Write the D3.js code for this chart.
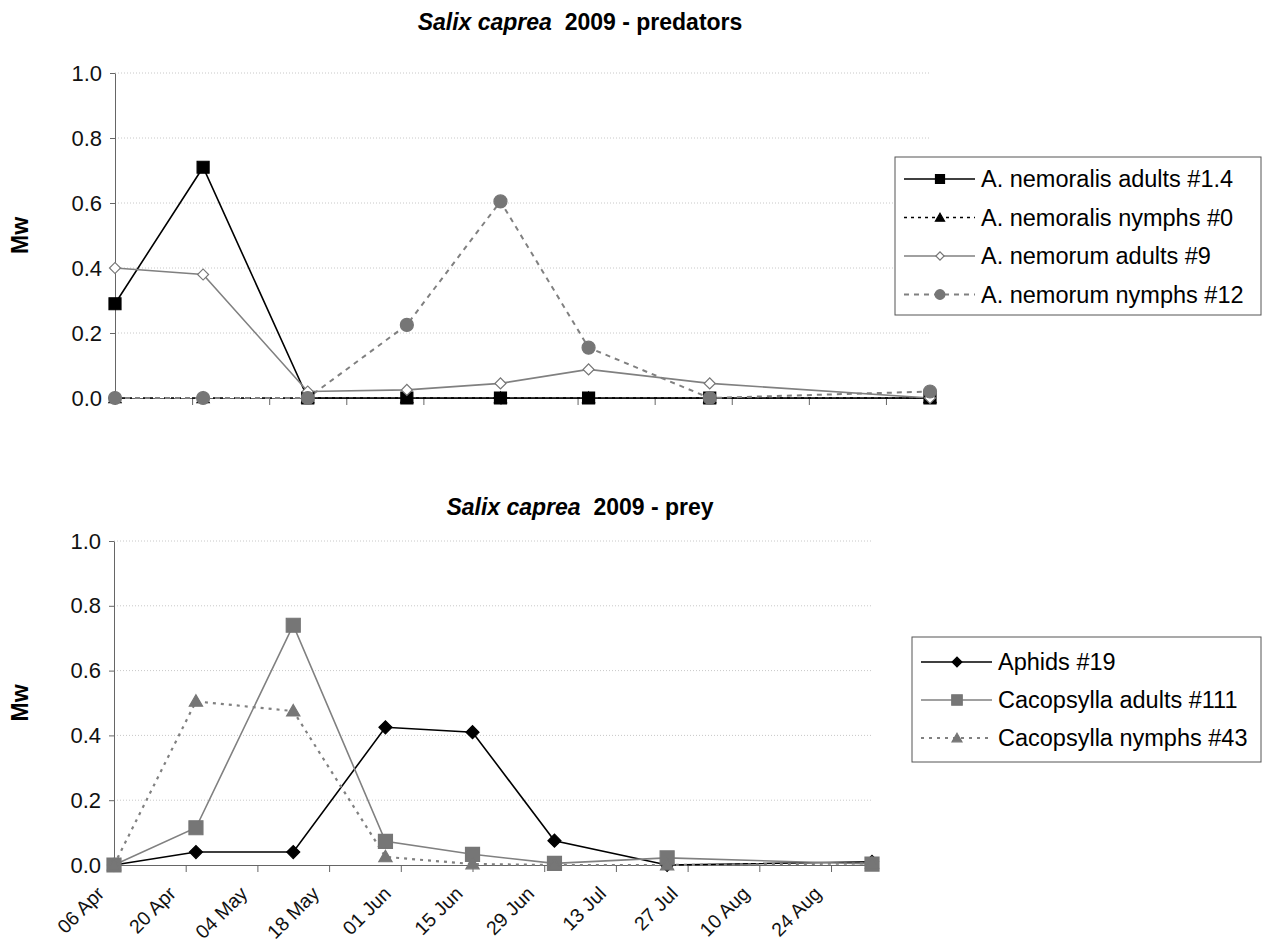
<!DOCTYPE html>
<html>
<head>
<meta charset="utf-8">
<script src="https://cdn.jsdelivr.net/npm/d3@7"></script>
<style>
  body { margin: 0; background: #fff; }
  svg { font-family: "Liberation Sans", Arial, sans-serif; }
  text { white-space: pre; }
</style>
</head>
<body>
<svg id="chart" width="1264" height="945"></svg>
<script>
// sampling dates (same for both panels)
const sampleDates = ['2009-04-06', '2009-04-22', '2009-05-11', '2009-05-29',
                     '2009-06-15', '2009-07-01', '2009-07-23', '2009-09-01'];

// predators
const nemoralisAdults = [0.29, 0.71, 0, 0, 0, 0, 0, 0];
const nemoralisNymphs = [0, 0, 0, 0, 0, 0, 0, 0];
const nemorumAdults   = [0.40, 0.38, 0.02, 0.025, 0.045, 0.088, 0.045, 0.0];
const nemorumNymphs   = [0, 0, 0, 0.225, 0.605, 0.155, 0, 0.02];

// prey
const aphids     = [0, 0.04, 0.04, 0.425, 0.41, 0.075, 0, 0.01];
const cacoAdults = [0, 0.115, 0.74, 0.073, 0.033, 0.005, 0.022, 0.003];
const cacoNymphs = [0, 0.505, 0.475, 0.025, 0.003, 0, 0, 0.005];

const yTicks = [0, 0.2, 0.4, 0.6, 0.8, 1.0];

const parseDate = d3.utcParse('%Y-%m-%d');
const dates     = sampleDates.map(parseDate);
const xStart    = parseDate('2009-04-06');
const xEnd      = parseDate('2009-09-01');
const tickDates = d3.utcDay.range(xStart, xEnd, 14);

const BLACK = '#000';
const GREY  = '#767676';
const LINE_GREY = '#808080';

const svg = d3.select('#chart');

const predatorSeries = [
  { name: 'A. nemoralis adults #1.4', values: nemoralisAdults, line: BLACK, width: 1.6, dash: null,
    symbol: 'square', size: 12, fill: BLACK, stroke: BLACK },
  { name: 'A. nemoralis nymphs #0', values: nemoralisNymphs, line: BLACK, width: 1.5, dash: '3,4',
    symbol: 'triangle', size: 12, fill: BLACK, stroke: BLACK },
  { name: 'A. nemorum adults #9', values: nemorumAdults, line: LINE_GREY, width: 1.6, dash: null,
    symbol: 'diamond', size: 11, fill: '#fff', stroke: GREY },
  { name: 'A. nemorum nymphs #12', values: nemorumNymphs, line: LINE_GREY, width: 2, dash: '5,5',
    symbol: 'circle', size: 13, fill: GREY, stroke: GREY }
];

const preySeries = [
  { name: 'Aphids #19', values: aphids, line: BLACK, width: 1.6, dash: null,
    symbol: 'diamond', size: 13, fill: BLACK, stroke: BLACK },
  { name: 'Cacopsylla adults #111', values: cacoAdults, line: LINE_GREY, width: 1.6, dash: null,
    symbol: 'square', size: 14, fill: GREY, stroke: GREY },
  { name: 'Cacopsylla nymphs #43', values: cacoNymphs, line: LINE_GREY, width: 2.2, dash: '3,5',
    symbol: 'triangle', size: 13, fill: GREY, stroke: GREY }
];

function marker(sel, s, scale) {
  const sz = s.size * scale;
  let path;
  if (s.symbol === 'square') {
    path = d3.symbol(d3.symbolSquare, sz * sz)();
  } else if (s.symbol === 'diamond') {
    const side = sz / Math.SQRT2;
    path = d3.symbol(d3.symbolSquare, side * side)();
  } else if (s.symbol === 'triangle') {
    path = d3.symbol(d3.symbolTriangle, sz * sz * 0.45)();
  } else {
    path = d3.symbol(d3.symbolCircle, Math.PI * sz * sz / 4)();
  }
  sel.append('path')
    .attr('d', path)
    .attr('transform', s.symbol === 'diamond' ? 'rotate(45)' : (s.symbol === 'triangle' ? 'translate(0,1)' : null))
    .attr('fill', s.fill)
    .attr('stroke', s.stroke)
    .attr('stroke-width', 1.2);
}

function drawPanel(cfg) {
  const g = svg.append('g');
  const x = d3.scaleUtc().domain([xStart, xEnd]).range([cfg.left, cfg.right]);
  const y = d3.scaleLinear().domain([0, 1]).range([cfg.bottom, cfg.top]);

  // title
  const title = g.append('text')
    .attr('x', cfg.titleX).attr('y', cfg.titleY)
    .attr('text-anchor', 'middle')
    .attr('font-size', 23).attr('font-weight', 'bold');
  title.append('tspan').attr('font-style', 'italic').text('Salix caprea');
  title.append('tspan').text('  2009 - ' + cfg.title);

  // y label
  g.append('text')
    .attr('transform', `translate(28,${(cfg.top + cfg.bottom) / 2}) rotate(-90)`)
    .attr('text-anchor', 'middle')
    .attr('font-size', 23).attr('font-weight', 'bold')
    .text('Mw');

  // gridlines
  g.selectAll('.grid')
    .data(yTicks.slice(1))
    .join('line')
      .attr('class', 'grid')
      .attr('x1', cfg.left).attr('x2', cfg.right)
      .attr('y1', d => y(d)).attr('y2', d => y(d))
      .attr('stroke', '#c8c8c8').attr('stroke-width', 1)
      .attr('stroke-dasharray', '1,2');

  // y axis
  const yAxis = g.append('g')
    .attr('transform', `translate(${cfg.left},0)`)
    .call(d3.axisLeft(y).tickValues(yTicks).tickFormat(d3.format('.1f'))
      .tickSize(5).tickSizeOuter(0).tickPadding(8));
  yAxis.selectAll('text').attr('font-size', 22).attr('fill', '#111').attr('font-family', null);
  yAxis.selectAll('line, path').attr('stroke', '#666');

  // x axis
  const xAxis = g.append('g')
    .attr('transform', `translate(0,${cfg.bottom})`)
    .call(d3.axisBottom(x).tickValues(tickDates)
      .tickFormat(cfg.labels ? d3.utcFormat('%d %b') : () => '')
      .tickSize(7).tickSizeOuter(0));
  xAxis.selectAll('line, path').attr('stroke', '#666');
  xAxis.selectAll('text')
    .attr('font-size', 19.5).attr('fill', '#111').attr('font-family', null)
    .attr('text-anchor', 'end')
    .attr('x', 0).attr('y', 0)
    .attr('dy', '0.35em')
    .attr('transform', 'translate(-14,25) rotate(-45)');

  // series
  const line = d3.line().x((d, i) => x(dates[i])).y(d => y(d));
  cfg.series.forEach(s => {
    g.append('path')
      .datum(s.values)
      .attr('d', line)
      .attr('fill', 'none')
      .attr('stroke', s.line)
      .attr('stroke-width', s.width)
      .attr('stroke-dasharray', s.dash);
  });
  cfg.series.forEach(s => {
    g.selectAll(null)
      .data(s.values)
      .join('g')
        .attr('transform', (d, i) => `translate(${x(dates[i])},${y(d)})`)
        .each(function () { marker(d3.select(this), s, 1); });
  });

  // legend
  const lg = g.append('g').attr('transform', `translate(${cfg.legend.x},${cfg.legend.y})`);
  lg.append('rect')
    .attr('width', cfg.legend.w).attr('height', cfg.legend.h)
    .attr('fill', '#fff').attr('stroke', '#555').attr('stroke-width', 1);
  const rows = lg.selectAll('.row')
    .data(cfg.series)
    .join('g')
      .attr('class', 'row')
      .attr('transform', (d, i) => `translate(0,${cfg.legend.first + i * cfg.legend.step})`);
  rows.append('line')
    .attr('x1', 9).attr('x2', 80)
    .attr('stroke', d => d.line)
    .attr('stroke-width', d => d.width)
    .attr('stroke-dasharray', d => d.dash);
  rows.append('g')
    .attr('transform', 'translate(45,0)')
    .each(function (d) { marker(d3.select(this), d, 0.75); });
  rows.append('text')
    .attr('x', 86).attr('dy', '0.35em')
    .attr('font-size', 23.5)
    .text(d => d.name);
}

drawPanel({
  title: 'predators', titleX: 580, titleY: 30,
  left: 115, right: 930, top: 73, bottom: 398,
  labels: false, series: predatorSeries,
  legend: { x: 895, y: 157, w: 366, h: 158, first: 22, step: 38.5 }
});

drawPanel({
  title: 'prey', titleX: 580, titleY: 515,
  left: 114, right: 872, top: 541, bottom: 865,
  labels: true, series: preySeries,
  legend: { x: 912, y: 637, w: 349, h: 125, first: 25, step: 38 }
});
</script>
</body>
</html>
